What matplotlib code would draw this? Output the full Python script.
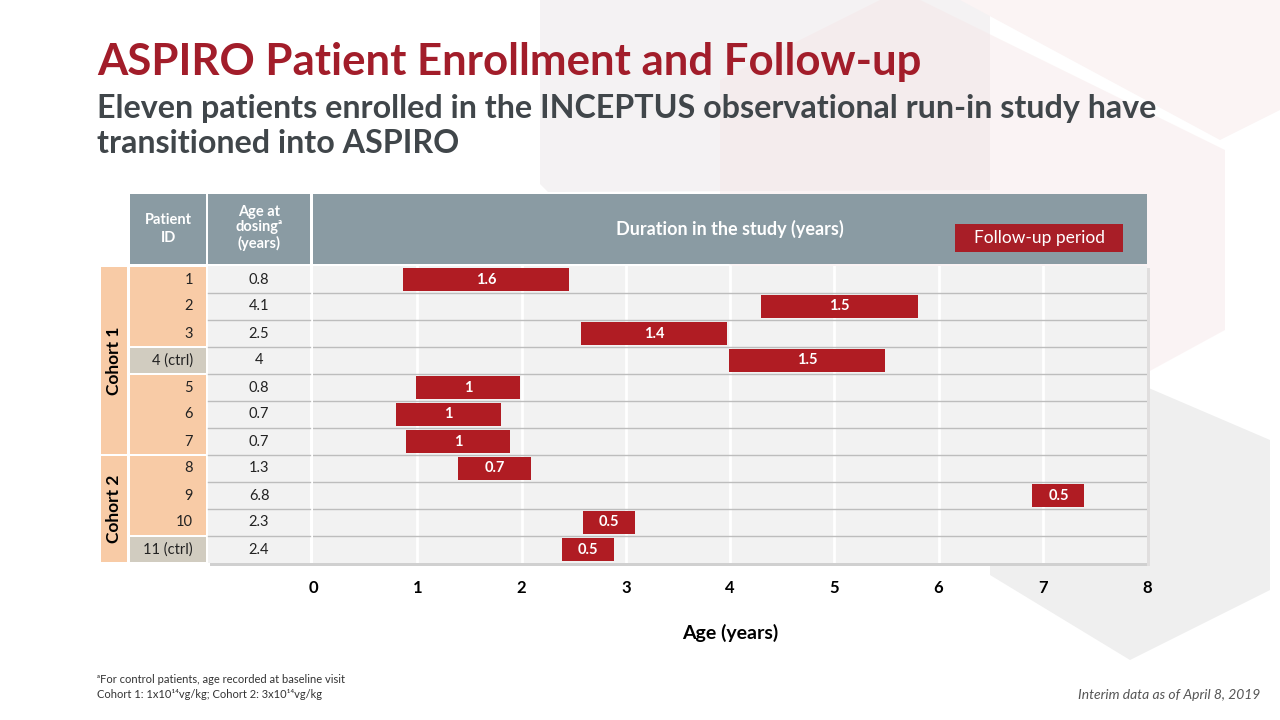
import matplotlib
matplotlib.use("Agg")
import matplotlib.pyplot as plt
from matplotlib.patches import Rectangle, Polygon

plt.rcParams['font.family'] = ['Lato', 'DejaVu Sans']

# data
patient_ids = ['1', '2', '3', '4 (ctrl)', '5', '6', '7', '8', '9', '10', '11 (ctrl)']
is_ctrl = [False, False, False, True, False, False, False, False, False, False, True]
ages = ['0.8', '4.1', '2.5', '4', '0.8', '0.7', '0.7', '1.3', '6.8', '2.3', '2.4']
bar_start = [0.86, 4.30, 2.57, 3.99, 0.99, 0.80, 0.89, 1.39, 6.90, 2.59, 2.39]
follow_up = [1.6, 1.5, 1.4, 1.5, 1.0, 1.0, 1.0, 0.7, 0.5, 0.5, 0.5]
follow_lbl = ['1.6', '1.5', '1.4', '1.5', '1', '1', '1', '0.7', '0.5', '0.5', '0.5']
cohorts = ['Cohort 1', 'Cohort 2']
cohort_rows = [(0, 7), (7, 11)]
pid_groups = [(0, 3), (3, 4), (4, 7), (7, 10), (10, 11)]
xticks = [0, 1, 2, 3, 4, 5, 6, 7, 8]

RED = '#b01c23'
TITLE_RED = '#a21d2a'
HEAD = '#8a9ba3'
PEACH = '#f8cba6'
CTRL = '#d1ccc0'
CELL = '#f2f2f2'
LINE = '#bdbdbd'

W, H = 1280, 720
fig = plt.figure(figsize=(12.8, 7.2), dpi=100)


def px_box(x0, y0, x1, y1):
    return [x0 / W, 1 - y1 / H, (x1 - x0) / W, (y1 - y0) / H]


# background decoration + header (pixel coordinates)
bg = fig.add_axes([0, 0, 1, 1], zorder=0)
bg.set_xlim(0, W)
bg.set_ylim(H, 0)
bg.axis('off')
bg.add_patch(Polygon([(540, 0), (990, 0), (990, 190), (548, 192), (540, 184)],
                     closed=True, fc='#f4f2f3', ec='none'))
bg.add_patch(Polygon([(720, 80), (900, -10), (1225, 150), (1225, 330), (1060, 420), (720, 260)],
                     closed=True, fc='#f6e6e7', ec='none', alpha=0.45))
bg.add_patch(Polygon([(960, 0), (1280, 0), (1280, 110), (1220, 140)],
                     closed=True, fc='#fbf4f4', ec='none'))
bg.add_patch(Polygon([(990, 440), (1130, 380), (1270, 440), (1270, 590), (1130, 660), (990, 575)],
                     closed=True, fc='#efefef', ec='none'))

# header cells
for x0, x1 in [(130, 206), (208, 310), (313, 1147)]:
    bg.add_patch(Rectangle((x0, 194), x1 - x0, 70, fc=HEAD, ec='none'))
bg.text(168, 229, 'Patient\nID', color='white', ha='center', va='center',
        fontsize=10.5, fontweight='bold', linespacing=1.3)
bg.text(259, 228, 'Age at\ndosing\u1d43\n(years)', color='white', ha='center', va='center',
        fontsize=10.5, fontweight='bold', linespacing=1.1)
bg.text(730, 229, 'Duration in the study (years)', color='white', ha='center', va='center',
        fontsize=13, fontweight='bold')
bg.add_patch(Rectangle((955, 224), 168, 28, fc='#a81e27', ec='none'))
bg.text(1039, 238, 'Follow-up period', color='white', ha='center', va='center', fontsize=12.5)
# table shadow
bg.add_patch(Rectangle((210, 563), 940, 3, fc='#d0d0d0', ec='none'))
bg.add_patch(Rectangle((1147, 268), 3, 298, fc='#e0dede', ec='none'))

# left part of the table: cohort, patient id, age
n = len(patient_ids)
tab = fig.add_axes(px_box(101, 266, 313, 563), zorder=2)
tab.set_xlim(101, 313)
tab.set_ylim(n, 0)
tab.axis('off')
for name, (r0, r1) in zip(cohorts, cohort_rows):
    tab.add_patch(Rectangle((101, r0 + 0.04), 26, r1 - r0 - 0.08, fc=PEACH, ec='none'))
    tab.text(114, (r0 + r1) / 2, name, rotation=90, ha='center', va='center',
             fontsize=12.5, fontweight='bold', color='black')
for r0, r1 in pid_groups:
    tab.add_patch(Rectangle((130, r0 + 0.04), 76, r1 - r0 - 0.08,
                            fc=CTRL if is_ctrl[r0] else PEACH, ec='none'))
tab.add_patch(Rectangle((208, 0), 102, n, fc=CELL, ec='none'))
for i in range(1, n):
    tab.plot([208, 310], [i, i], color=LINE, lw=1)
for i, (pid, age) in enumerate(zip(patient_ids, ages)):
    tab.text(193, i + 0.5, pid, ha='right', va='center', fontsize=10.5, color='#222222')
    tab.text(259, i + 0.5, age, ha='center', va='center', fontsize=10.5, color='#222222')

# timeline
ax = fig.add_axes(px_box(313, 266, 1147, 563), zorder=2)
ax.set_facecolor(CELL)
ax.set_xlim(0, 8)
ax.set_ylim(n, 0)
for x in range(1, 8):
    ax.axvline(x, color='white', lw=2, zorder=1)
for i in range(1, n):
    ax.axhline(i, color=LINE, lw=1, zorder=1)
rows = [i + 0.5 for i in range(n)]
ax.barh(rows, follow_up, left=bar_start, height=0.85, color=RED, zorder=3)
for y, s, d, lab in zip(rows, bar_start, follow_up, follow_lbl):
    ax.text(s + d / 2, y, lab, ha='center', va='center', color='white',
            fontsize=10.5, fontweight='bold', zorder=4)
for sp in ax.spines.values():
    sp.set_visible(False)
ax.set_yticks([])
ax.set_xticks(xticks)
ax.set_xticklabels([str(t) for t in xticks], fontsize=12, fontweight='bold')
ax.tick_params(axis='x', length=0, pad=12)
ax.set_xlabel('Age (years)', fontsize=14, fontweight='bold', labelpad=20)

# titles and notes
fig.text(97 / W, 1 - 62 / H, 'ASPIRO Patient Enrollment and Follow-up', color=TITLE_RED,
         fontsize=31.5, fontweight='bold', va='center', ha='left')
fig.text(97 / W, 1 - 126 / H,
         'Eleven patients enrolled in the INCEPTUS observational run-in study have\ntransitioned into ASPIRO',
         color='#40464a', fontsize=23.2, fontweight='bold', va='center', ha='left', linespacing=1.25)
fig.text(97 / W, 1 - 687 / H,
         '\u1d43For control patients, age recorded at baseline visit\nCohort 1: 1x10\u00b9\u2074vg/kg; Cohort 2: 3x10\u00b9\u2074vg/kg',
         fontsize=8, color='#333333', va='center', ha='left', linespacing=1.35)
fig.text(1260 / W, 1 - 695 / H, 'Interim data as of April 8, 2019', fontsize=10,
         style='italic', color='#555555', ha='right', va='center')

fig.savefig('out.png', dpi=100)
